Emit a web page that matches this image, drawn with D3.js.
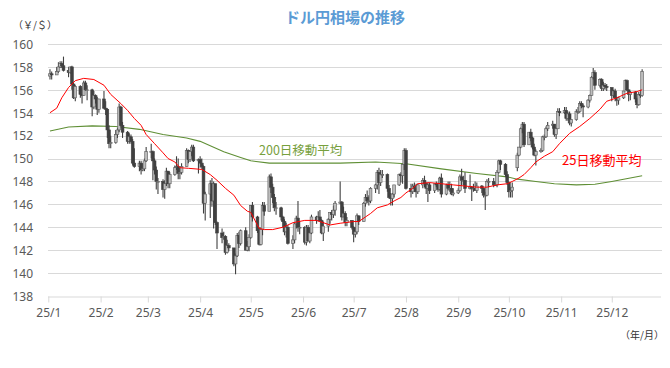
<!DOCTYPE html>
<html><head><meta charset="utf-8">
<script src="https://cdn.jsdelivr.net/npm/d3@7"></script>
<style>
html,body{margin:0;padding:0;background:#fff;}
svg{display:block;font-family:"Noto Sans","Noto Sans CJK JP",sans-serif;}
</style></head>
<body><svg id="c" width="670" height="368"></svg>
<script>
// ---- data (USD/JPY daily OHLC) ----
const candles = [
["2025-01-02",157.2,157.8,156.9,157.4],["2025-01-03",157.4,157.6,156.9,157.3],
["2025-01-06",157.3,158.0,157.3,157.6],["2025-01-07",157.6,158.4,157.5,158.0],
["2025-01-08",158.0,158.5,157.9,158.3],["2025-01-09",158.3,158.5,157.9,158.1],
["2025-01-10",158.1,158.9,157.6,157.7],["2025-01-13",157.7,158.0,157.1,157.5],
["2025-01-14",157.5,158.0,157.4,158.0],["2025-01-15",158.0,158.1,156.0,156.5],
["2025-01-16",156.5,156.6,155.2,155.3],["2025-01-17",155.3,156.4,155.0,156.3],
["2025-01-20",156.3,156.4,155.3,155.6],["2025-01-21",155.6,156.2,154.8,155.5],
["2025-01-22",155.5,156.8,155.5,156.6],["2025-01-23",156.6,156.8,155.9,156.0],
["2025-01-24",156.0,156.4,155.1,156.0],["2025-01-27",156.0,156.1,153.7,154.5],
["2025-01-28",154.5,155.9,154.3,155.5],["2025-01-29",155.5,155.6,154.8,155.2],
["2025-01-30",155.2,155.4,153.8,154.3],["2025-01-31",154.3,155.2,154.0,155.2],
["2025-02-03",155.2,155.9,154.3,154.4],["2025-02-04",154.4,155.0,153.8,154.3],
["2025-02-05",154.3,154.4,151.8,152.5],["2025-02-06",152.5,152.9,150.9,151.3],
["2025-02-07",151.3,152.0,150.9,151.4],["2025-02-10",151.4,152.5,151.3,152.1],
["2025-02-11",152.1,152.7,151.8,152.5],["2025-02-12",152.5,154.8,152.3,154.5],
["2025-02-13",154.5,154.6,152.8,152.9],["2025-02-14",152.9,153.2,151.8,152.3],
["2025-02-17",152.3,152.4,151.3,151.5],["2025-02-18",151.5,152.2,151.3,151.9],
["2025-02-19",151.9,152.1,151.3,151.5],["2025-02-20",151.5,151.7,149.4,149.6],
["2025-02-21",149.6,150.9,149.2,149.3],["2025-02-24",149.3,149.8,148.9,149.6],
["2025-02-25",149.6,149.8,148.6,149.0],["2025-02-26",149.0,149.6,148.9,149.1],
["2025-02-27",149.1,150.0,148.9,149.8],["2025-02-28",149.8,151.0,149.7,150.6],
["2025-03-03",150.6,151.3,150.0,150.6],["2025-03-04",150.6,150.7,148.1,149.8],
["2025-03-05",149.8,150.0,148.6,149.0],["2025-03-06",149.0,149.3,147.3,148.0],
["2025-03-07",148.0,148.3,146.9,148.0],["2025-03-10",148.0,148.2,146.6,147.3],
["2025-03-11",147.3,148.1,146.5,147.8],["2025-03-12",147.8,149.2,147.6,148.9],
["2025-03-13",148.9,148.9,147.4,147.8],["2025-03-14",147.8,148.8,147.4,148.6],
["2025-03-17",148.6,149.4,148.5,149.2],["2025-03-18",149.2,150.2,149.0,149.3],
["2025-03-19",149.3,150.0,148.2,148.7],["2025-03-20",148.7,149.2,148.2,148.8],
["2025-03-21",148.8,149.6,148.6,149.3],["2025-03-24",149.3,150.9,149.3,150.7],
["2025-03-25",150.7,150.8,149.6,149.9],["2025-03-26",149.9,150.7,149.7,150.6],
["2025-03-27",150.6,151.2,150.2,151.0],["2025-03-28",151.0,151.2,149.7,149.8],
["2025-03-31",149.8,150.0,148.7,149.9],
["2025-04-01",149.9,150.2,149.2,149.6],["2025-04-02",149.6,150.0,149.1,149.3],
["2025-04-03",149.3,149.4,145.2,146.1],["2025-04-04",146.1,147.1,144.6,146.9],
["2025-04-07",146.9,148.1,144.8,147.8],["2025-04-08",147.8,148.3,145.8,146.3],
["2025-04-09",146.3,148.0,143.9,147.8],["2025-04-10",147.8,147.8,144.2,144.4],
["2025-04-11",144.4,144.5,142.1,143.5],["2025-04-14",143.5,143.9,142.6,143.1],
["2025-04-15",143.1,143.6,142.9,143.2],["2025-04-16",143.2,143.3,141.6,141.8],
["2025-04-17",141.8,142.9,141.7,142.4],["2025-04-18",142.4,142.6,141.9,142.2],
["2025-04-21",142.2,142.2,140.6,140.8],["2025-04-22",140.8,141.7,139.9,141.5],
["2025-04-23",141.5,143.5,141.4,143.3],["2025-04-24",143.3,143.6,142.2,142.6],
["2025-04-25",142.6,143.8,142.4,143.7],["2025-04-28",143.7,144.0,142.0,142.0],
["2025-04-29",142.0,142.8,141.9,142.3],["2025-04-30",142.3,143.4,141.9,143.1],
["2025-05-01",143.1,145.9,143.0,145.9],["2025-05-02",145.9,146.2,144.5,144.9],
["2025-05-05",144.9,145.0,143.5,143.7],["2025-05-06",143.7,144.0,142.4,142.5],
["2025-05-07",142.5,144.0,142.4,143.8],["2025-05-08",143.8,146.2,143.3,145.9],
["2025-05-09",145.9,146.2,145.0,145.4],["2025-05-12",145.4,148.6,145.4,148.4],
["2025-05-13",148.4,148.7,147.0,147.5],["2025-05-14",147.5,147.8,146.1,146.6],
["2025-05-15",146.6,146.9,145.4,145.7],["2025-05-16",145.7,146.2,145.1,145.7],
["2025-05-19",145.7,145.8,144.6,144.9],["2025-05-20",144.9,145.0,144.0,144.5],
["2025-05-21",144.5,144.7,143.3,143.6],["2025-05-22",143.6,144.4,143.1,144.0],
["2025-05-23",144.0,144.2,142.5,142.6],["2025-05-26",142.6,143.3,142.1,142.9],
["2025-05-27",142.9,144.4,142.6,144.3],["2025-05-28",144.3,145.0,143.9,144.8],
["2025-05-29",144.8,146.3,143.6,144.0],["2025-05-30",144.0,144.5,143.4,144.0],
["2025-06-02",144.0,144.1,142.5,142.7],["2025-06-03",142.7,144.2,142.4,144.0],
["2025-06-04",144.0,144.2,142.8,142.8],["2025-06-05",142.8,144.0,142.6,143.5],
["2025-06-06",143.5,145.1,143.4,144.9],["2025-06-09",144.9,145.0,144.3,144.6],
["2025-06-10",144.6,145.4,144.5,144.9],["2025-06-11",144.9,145.5,144.5,144.6],
["2025-06-12",144.6,144.7,143.4,143.5],["2025-06-13",143.5,144.5,142.8,144.1],
["2025-06-16",144.1,144.8,143.6,144.7],["2025-06-17",144.7,145.3,144.3,145.3],
["2025-06-18",145.3,145.5,144.6,145.1],["2025-06-19",145.1,145.9,144.8,145.5],
["2025-06-20",145.5,146.3,145.0,146.1],["2025-06-23",146.1,148.0,146.0,146.2],
["2025-06-24",146.2,146.3,144.6,144.9],["2025-06-25",144.9,145.8,144.9,145.2],
["2025-06-26",145.2,145.4,144.1,144.4],["2025-06-27",144.4,144.9,144.1,144.6],
["2025-06-30",144.6,144.6,143.8,144.0],
["2025-07-01",144.0,144.1,142.7,143.4],["2025-07-02",143.4,144.0,143.1,143.6],
["2025-07-03",143.6,145.2,143.4,145.0],["2025-07-04",145.0,145.0,144.2,144.5],
["2025-07-07",144.5,146.2,144.5,146.1],["2025-07-08",146.1,146.9,145.8,146.6],
["2025-07-09",146.6,147.2,146.1,146.3],["2025-07-10",146.3,146.8,145.9,146.3],
["2025-07-11",146.3,147.5,146.1,147.4],["2025-07-14",147.4,147.8,147.0,147.7],
["2025-07-15",147.7,149.0,147.3,148.8],["2025-07-16",148.8,149.2,146.9,147.9],
["2025-07-17",147.9,149.0,147.6,148.6],["2025-07-18",148.6,149.0,148.3,148.6],
["2025-07-21",148.6,148.7,147.1,147.4],["2025-07-22",147.4,147.7,146.5,146.6],
["2025-07-23",146.6,147.0,145.9,146.5],["2025-07-24",146.5,147.0,145.9,146.9],
["2025-07-25",146.9,147.7,146.6,147.7],["2025-07-28",147.7,148.7,147.6,148.6],
["2025-07-29",148.6,148.8,147.9,148.5],["2025-07-30",148.5,149.5,147.8,149.5],
["2025-07-31",149.5,150.9,149.0,150.7],
["2025-08-01",150.7,150.9,147.3,147.4],["2025-08-04",147.4,147.8,146.6,147.1],
["2025-08-05",147.1,147.8,146.9,147.6],["2025-08-06",147.6,147.9,147.1,147.4],
["2025-08-07",147.4,147.8,146.6,147.1],["2025-08-08",147.1,147.8,146.9,147.7],
["2025-08-11",147.7,148.3,147.4,148.1],["2025-08-12",148.1,148.5,147.5,147.8],
["2025-08-13",147.8,147.9,146.9,147.4],["2025-08-14",147.4,147.9,146.2,147.7],
["2025-08-15",147.7,147.9,146.9,147.2],["2025-08-18",147.2,147.8,147.0,147.8],
["2025-08-19",147.8,148.0,147.5,147.7],["2025-08-20",147.7,147.9,147.1,147.3],
["2025-08-21",147.3,148.4,147.2,148.3],["2025-08-22",148.3,148.7,146.6,146.9],
["2025-08-25",146.9,147.8,146.8,147.7],["2025-08-26",147.7,148.0,147.2,147.4],
["2025-08-27",147.4,148.0,147.1,147.4],["2025-08-28",147.4,147.8,146.8,146.9],
["2025-08-29",146.9,147.4,146.7,147.0],
["2025-09-01",147.0,147.4,146.9,147.2],["2025-09-02",147.2,148.6,147.1,148.4],
["2025-09-03",148.4,149.1,147.7,148.1],["2025-09-04",148.1,148.5,147.7,148.1],
["2025-09-05",148.1,148.8,147.0,147.4],["2025-09-08",147.4,148.6,147.3,147.5],
["2025-09-09",147.5,147.6,146.3,147.4],["2025-09-10",147.4,147.8,147.1,147.4],
["2025-09-11",147.4,148.0,147.2,147.2],["2025-09-12",147.2,147.9,147.0,147.6],
["2025-09-15",147.6,147.7,147.0,147.4],["2025-09-16",147.4,147.4,146.6,146.8],
["2025-09-17",146.8,147.1,145.5,146.8],["2025-09-18",146.8,148.2,146.7,148.0],
["2025-09-19",148.0,148.3,147.5,148.0],["2025-09-22",148.0,148.3,147.5,147.7],
["2025-09-23",147.7,147.9,147.6,147.7],["2025-09-24",147.7,149.0,147.5,148.8],
["2025-09-25",148.8,149.9,148.7,149.8],["2025-09-26",149.8,149.9,149.0,149.5],
["2025-09-29",149.5,149.6,148.4,148.6],["2025-09-30",148.6,148.9,147.7,147.9],
["2025-10-01",147.9,148.0,146.6,147.1],["2025-10-02",147.1,147.5,146.6,147.2],
["2025-10-03",147.2,147.9,146.6,147.5],["2025-10-06",149.2,150.5,148.9,150.3],
["2025-10-07",150.3,151.0,150.2,151.0],["2025-10-08",151.0,152.7,150.9,152.6],
["2025-10-09",152.6,153.2,152.2,153.0],["2025-10-10",153.0,153.2,151.0,151.2],
["2025-10-13",151.2,152.3,151.2,152.3],["2025-10-14",152.3,152.6,151.5,151.8],
["2025-10-15",151.8,151.9,150.8,151.0],["2025-10-16",151.0,151.3,150.2,150.3],
["2025-10-17",150.3,150.8,149.4,150.6],["2025-10-20",150.6,150.9,150.5,150.7],
["2025-10-21",150.7,152.0,150.6,151.9],["2025-10-22",151.9,152.1,151.6,151.9],
["2025-10-23",151.9,152.8,151.8,152.6],["2025-10-24",152.6,153.2,152.4,152.9],
["2025-10-27",152.9,153.3,152.6,153.0],["2025-10-28",153.0,153.0,151.9,152.1],
["2025-10-29",152.1,152.7,151.7,152.6],["2025-10-30",152.6,154.4,152.6,154.1],
["2025-10-31",154.1,154.4,153.7,154.0],
["2025-11-03",154.0,154.5,153.9,154.2],["2025-11-04",154.2,154.5,153.3,153.5],
["2025-11-05",153.5,154.1,153.3,153.9],["2025-11-06",153.9,154.1,152.9,153.1],
["2025-11-07",153.1,153.4,152.8,153.4],["2025-11-10",153.4,154.3,153.3,154.1],
["2025-11-11",154.1,154.5,153.9,154.1],["2025-11-12",154.1,155.0,154.0,154.8],
["2025-11-13",154.8,155.0,154.4,154.6],["2025-11-14",154.6,154.8,153.6,154.5],
["2025-11-17",154.5,155.2,154.4,155.1],["2025-11-18",155.1,155.6,154.9,155.5],
["2025-11-19",155.5,157.2,155.5,157.1],["2025-11-20",157.1,157.9,156.9,157.5],
["2025-11-21",157.5,157.7,156.0,156.4],["2025-11-24",156.4,157.0,156.2,156.9],
["2025-11-25",156.9,157.0,155.9,156.1],["2025-11-26",156.1,156.7,155.9,156.4],
["2025-11-27",156.4,156.6,156.0,156.3],["2025-11-28",156.3,156.5,155.9,156.2],
["2025-12-01",156.2,156.2,155.0,155.5],["2025-12-02",155.5,156.0,155.3,155.9],
["2025-12-03",155.9,156.1,155.0,155.3],["2025-12-04",155.3,155.4,154.6,155.1],
["2025-12-05",155.1,155.4,154.7,155.3],["2025-12-08",155.3,155.9,155.2,155.9],
["2025-12-09",155.9,156.9,155.9,156.8],["2025-12-10",156.8,156.9,155.9,156.0],
["2025-12-11",156.0,156.0,155.0,155.6],["2025-12-12",155.6,155.9,155.1,155.8],
["2025-12-15",155.8,155.9,154.9,155.2],["2025-12-16",155.2,155.3,154.4,154.7],
["2025-12-17",154.7,155.8,154.6,155.6],["2025-12-18",155.6,156.0,155.3,155.5],
["2025-12-19",155.5,157.8,155.4,157.6]
];
const ma25 = [
["2025-01-02",154.0],["2025-01-06",154.4],["2025-01-09",155.3],["2025-01-13",156.2],
["2025-01-17",156.8],["2025-01-22",157.0],["2025-01-28",156.9],["2025-02-03",156.4],
["2025-02-07",155.6],["2025-02-13",154.8],["2025-02-17",154.2],["2025-02-21",153.5],
["2025-02-25",152.9],["2025-02-28",152.1],["2025-03-05",151.3],["2025-03-10",150.5],
["2025-03-13",150.0],["2025-03-17",149.7],["2025-03-20",149.2],["2025-03-25",149.15],
["2025-04-02",149.05],["2025-04-07",148.6],["2025-04-11",148.1],["2025-04-16",147.4],
["2025-04-21",146.8],["2025-04-25",145.9],["2025-04-29",145.4],["2025-05-01",145.3],
["2025-05-06",143.9],["2025-05-09",143.8],["2025-05-14",143.8],["2025-05-20",144.0],
["2025-05-26",144.4],["2025-06-02",144.6],["2025-06-09",144.6],["2025-06-13",144.4],
["2025-06-17",144.2],["2025-06-23",144.35],["2025-07-01",144.5],["2025-07-04",144.5],
["2025-07-08",144.9],["2025-07-11",145.2],["2025-07-15",145.7],["2025-07-21",145.95],
["2025-07-25",146.3],["2025-07-29",146.6],["2025-08-01",147.0],["2025-08-05",147.4],
["2025-08-08",147.8],["2025-08-15",147.9],["2025-08-22",147.8],["2025-08-29",147.7],
["2025-09-05",147.6],["2025-09-12",147.5],["2025-09-18",147.5],["2025-09-24",147.7],
["2025-09-30",147.8],["2025-10-03",148.0],["2025-10-07",148.3],["2025-10-10",148.6],
["2025-10-14",149.2],["2025-10-17",149.7],["2025-10-22",150.2],["2025-10-27",150.6],
["2025-10-31",151.3],["2025-11-06",152.2],["2025-11-12",152.8],["2025-11-18",153.5],
["2025-11-24",154.3],["2025-11-28",155.0],["2025-12-04",155.3],["2025-12-10",155.7],
["2025-12-16",155.85],["2025-12-19",156.0]
];
const ma200 = [
["2025-01-02",152.4],["2025-01-13",152.75],["2025-01-27",152.85],["2025-02-10",152.8],
["2025-02-24",152.55],["2025-03-10",152.1],["2025-03-24",151.8],["2025-04-01",151.5],
["2025-04-15",150.6],["2025-04-25",150.1],["2025-05-01",149.8],["2025-05-12",149.6],
["2025-06-02",149.6],["2025-06-23",149.6],["2025-07-14",149.7],["2025-08-01",149.55],
["2025-08-22",149.1],["2025-09-12",148.7],["2025-09-30",148.4],["2025-10-06",148.2],
["2025-10-17",148.0],["2025-10-28",147.8],["2025-11-10",147.7],["2025-11-21",147.75],
["2025-12-01",148.0],["2025-12-19",148.5]
];
const yTicks = [138,140,142,144,146,148,150,152,154,156,158,160];
const monthTicks = ["2025-01-01","2025-02-01","2025-03-01","2025-04-01","2025-05-01","2025-06-01",
  "2025-07-01","2025-08-01","2025-09-01","2025-10-01","2025-11-01","2025-12-01"];
const monthLabels = ["25/1","25/2","25/3","25/4","25/5","25/6","25/7","25/8","25/9","25/10","25/11","25/12"];
const titleText = "ドル円相場の推移";
const yUnit = "（￥/＄）";
const xUnit = "（年/月）";
const label200 = "200日移動平均";
const label25 = "25日移動平均";

// ---- drawing ----
const parse = d3.timeParse("%Y-%m-%d");
const svg = d3.select("#c");
const x = d3.scaleTime().domain([parse("2025-01-01"), parse("2025-12-30")]).range([48.3, 660.7]);
const y = d3.scaleLinear().domain([138,160]).range([296,44]);

// gridlines
svg.append("g").selectAll("line").data(yTicks.filter(v=>v>138)).join("line")
  .attr("x1",48).attr("x2",662).attr("y1",d=>Math.round(y(d))+0.5).attr("y2",d=>Math.round(y(d))+0.5)
  .attr("stroke","#d9d9d9").attr("stroke-width",1);

// y axis (labels only)
const yAxis = d3.axisLeft(y).tickValues(yTicks).tickSize(0).tickPadding(0).tickFormat(d3.format("d"));
const gy = svg.append("g").attr("transform","translate(33,0)").call(yAxis);
gy.select(".domain").remove();
gy.selectAll("text").attr("fill","#595959").attr("font-size","12px").attr("dy","0.36em")
  .attr("font-family","'Noto Sans',sans-serif");

// x axis
const xAxis = d3.axisBottom(x).tickValues(monthTicks.map(parse)).tickSize(6).tickPadding(6)
  .tickFormat((d,i)=>monthLabels[i]);
const gx = svg.append("g").attr("transform","translate(0,296.5)").call(xAxis);
gx.select(".domain").attr("d","M48,0.5H661").attr("stroke","#d9d9d9");
gx.selectAll(".tick line").attr("stroke","#d9d9d9");
gx.selectAll("text").attr("fill","#595959").attr("font-size","12px")
  .attr("font-family","'Noto Sans',sans-serif");

const line = d3.line().x(d=>x(parse(d[0]))).y(d=>y(d[1]));

// 200 MA
svg.append("path").datum(ma200).attr("d",line).attr("fill","none")
  .attr("stroke","#5f8f35").attr("stroke-width",1.1);

// candles
const bw = 2.8;
const cg = svg.append("g");
const cs = cg.selectAll("g").data(candles).join("g");
cs.append("line")
  .attr("x1",d=>x(parse(d[0]))).attr("x2",d=>x(parse(d[0])))
  .attr("y1",d=>y(d[2])).attr("y2",d=>y(d[3]))
  .attr("stroke","#404040").attr("stroke-width",1.1);
cs.append("rect")
  .attr("x",d=>x(parse(d[0]))-bw/2).attr("width",bw)
  .attr("y",d=>y(Math.max(d[1],d[4])))
  .attr("height",d=>Math.max(0.8,Math.abs(y(d[1])-y(d[4]))))
  .attr("fill",d=>d[4]>=d[1]?"#bdbdbd":"#404040")
  .attr("stroke",d=>d[4]>=d[1]?"#5a5a5a":"#404040").attr("stroke-width",0.6);

// 25 MA
svg.append("path").datum(ma25).attr("d",line).attr("fill","none")
  .attr("stroke","#ff0000").attr("stroke-width",1);

// texts
svg.append("text").attr("x",345).attr("y",23).attr("text-anchor","middle")
  .attr("font-family","'Noto Sans CJK JP',sans-serif").attr("font-weight","bold")
  .attr("font-size","15px").attr("fill","#5b9bd5").text(titleText);
svg.append("text").attr("x",13).attr("y",29).attr("font-family","'Noto Sans CJK JP',sans-serif")
  .attr("font-size","10px").attr("fill","#333").text(yUnit);
svg.append("text").attr("x",620).attr("y",339).attr("font-family","'Noto Sans CJK JP',sans-serif")
  .attr("font-size","10px").attr("fill","#333").text(xUnit);
svg.append("text").attr("x",259).attr("y",155).attr("font-family","'Noto Sans CJK JP',sans-serif")
  .attr("font-size","12.5px").attr("fill","#77a03c").text(label200);
svg.append("text").attr("x",562).attr("y",165).attr("font-family","'Noto Sans CJK JP',sans-serif")
  .attr("font-size","13px").attr("fill","#ff0000").text(label25);
</script></body></html>
